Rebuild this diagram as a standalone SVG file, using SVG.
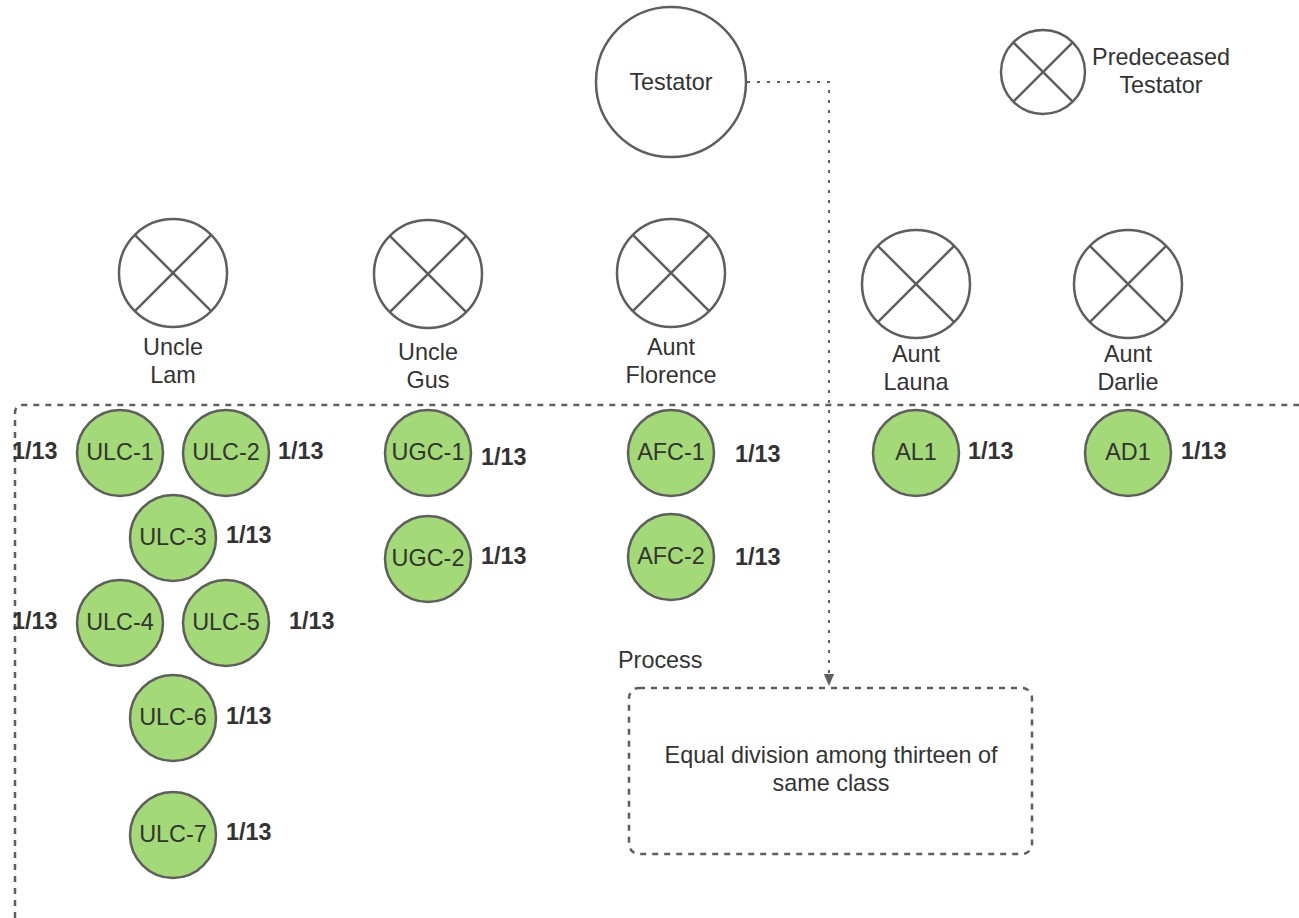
<svg xmlns="http://www.w3.org/2000/svg" width="1299" height="918" viewBox="0 0 1299 918">
<style>
  .t{font-family:"Liberation Sans",Arial,sans-serif;font-size:23.4px;fill:#333;text-anchor:middle;dominant-baseline:central}
  .f{font-family:"Liberation Sans",Arial,sans-serif;font-size:23.4px;font-weight:bold;fill:#333;dominant-baseline:central}
  .dead{fill:#fff;stroke:#5e5e5e;stroke-width:2.5}
  .x{stroke:#5e5e5e;stroke-width:2.5}
  .g{fill:#a3d977;stroke:#5e5e5e;stroke-width:2.5}
  .dash{fill:none;stroke:#5e5e5e;stroke-width:2.5;stroke-dasharray:6 6}
</style>
<defs>
  <marker id="arr" viewBox="0 0 12 14" refX="14" refY="6" markerWidth="14" markerHeight="12" markerUnits="userSpaceOnUse" orient="auto">
    <path d="M0,0 L14,6 L0,12 z" fill="#5e5e5e"/>
  </marker>
</defs>
<rect width="1299" height="918" fill="#fff"/>

<g id="family-region">
  <path class="dash" d="M15,918 L15,413 Q15,405 23,405 L1299,405"/>
</g>

<g id="connectors">
  <path d="M747,82 L829,82 L829,686" fill="none" stroke="#5e5e5e" stroke-width="2" stroke-dasharray="3 7" marker-end="url(#arr)"/>
</g>

<g id="testator">
  <circle cx="671" cy="82" r="75" class="dead"/>
  <text class="t" x="671" y="82">Testator</text>
</g>

<g id="legend">
  <circle cx="1043" cy="72" r="42" class="dead"/>
  <line class="x" x1="1013.3" y1="42.3" x2="1072.7" y2="101.7"/>
  <line class="x" x1="1072.7" y1="42.3" x2="1013.3" y2="101.7"/>
  <text class="t" x="1161" y="57">Predeceased</text>
  <text class="t" x="1161" y="85">Testator</text>
</g>

<g id="uncle-lam">
  <circle cx="173" cy="273" r="54" class="dead"/>
  <line class="x" x1="134.8" y1="234.8" x2="211.2" y2="311.2"/>
  <line class="x" x1="211.2" y1="234.8" x2="134.8" y2="311.2"/>
  <text class="t" x="173" y="347">Uncle</text>
  <text class="t" x="173" y="375">Lam</text>
</g>

<g id="uncle-gus">
  <circle cx="428" cy="274" r="54" class="dead"/>
  <line class="x" x1="389.8" y1="235.8" x2="466.2" y2="312.2"/>
  <line class="x" x1="466.2" y1="235.8" x2="389.8" y2="312.2"/>
  <text class="t" x="428" y="352">Uncle</text>
  <text class="t" x="428" y="380">Gus</text>
</g>

<g id="aunt-florence">
  <circle cx="671" cy="273" r="54" class="dead"/>
  <line class="x" x1="632.8" y1="234.8" x2="709.2" y2="311.2"/>
  <line class="x" x1="709.2" y1="234.8" x2="632.8" y2="311.2"/>
  <text class="t" x="671" y="347">Aunt</text>
  <text class="t" x="671" y="375">Florence</text>
</g>

<g id="aunt-launa">
  <circle cx="916" cy="284" r="54" class="dead"/>
  <line class="x" x1="877.8" y1="245.8" x2="954.2" y2="322.2"/>
  <line class="x" x1="954.2" y1="245.8" x2="877.8" y2="322.2"/>
  <text class="t" x="916" y="354">Aunt</text>
  <text class="t" x="916" y="382">Launa</text>
</g>

<g id="aunt-darlie">
  <circle cx="1128" cy="284" r="54" class="dead"/>
  <line class="x" x1="1089.8" y1="245.8" x2="1166.2" y2="322.2"/>
  <line class="x" x1="1166.2" y1="245.8" x2="1089.8" y2="322.2"/>
  <text class="t" x="1128" y="354">Aunt</text>
  <text class="t" x="1128" y="382">Darlie</text>
</g>

<g id="ulc-1"><circle cx="120" cy="453" r="43" class="g"/><text class="t" x="120" y="452">ULC-1</text><text class="f" x="12" y="451">1/13</text></g>
<g id="ulc-2"><circle cx="226" cy="453" r="43" class="g"/><text class="t" x="226" y="452">ULC-2</text><text class="f" x="278" y="451">1/13</text></g>
<g id="ulc-3"><circle cx="173" cy="538" r="43" class="g"/><text class="t" x="173" y="537">ULC-3</text><text class="f" x="226" y="535">1/13</text></g>
<g id="ulc-4"><circle cx="120" cy="623" r="43" class="g"/><text class="t" x="120" y="622">ULC-4</text><text class="f" x="12" y="621">1/13</text></g>
<g id="ulc-5"><circle cx="226" cy="623" r="43" class="g"/><text class="t" x="226" y="622">ULC-5</text><text class="f" x="289" y="621">1/13</text></g>
<g id="ulc-6"><circle cx="173" cy="718" r="43" class="g"/><text class="t" x="173" y="717">ULC-6</text><text class="f" x="226" y="716">1/13</text></g>
<g id="ulc-7"><circle cx="173" cy="835" r="43" class="g"/><text class="t" x="173" y="834">ULC-7</text><text class="f" x="226" y="832">1/13</text></g>
<g id="ugc-1"><circle cx="428" cy="453" r="43" class="g"/><text class="t" x="428" y="452">UGC-1</text><text class="f" x="481" y="457">1/13</text></g>
<g id="ugc-2"><circle cx="428" cy="559" r="43" class="g"/><text class="t" x="428" y="558">UGC-2</text><text class="f" x="481" y="556">1/13</text></g>
<g id="afc-1"><circle cx="671" cy="453" r="43" class="g"/><text class="t" x="671" y="452">AFC-1</text><text class="f" x="735" y="454">1/13</text></g>
<g id="afc-2"><circle cx="671" cy="557" r="43" class="g"/><text class="t" x="671" y="556">AFC-2</text><text class="f" x="735" y="557">1/13</text></g>
<g id="al1"><circle cx="916" cy="453" r="43" class="g"/><text class="t" x="916" y="452">AL1</text><text class="f" x="968" y="451">1/13</text></g>
<g id="ad1"><circle cx="1128" cy="453" r="43" class="g"/><text class="t" x="1128" y="452">AD1</text><text class="f" x="1181" y="451">1/13</text></g>

<g id="process">
  <text class="t" x="618" y="660" style="text-anchor:start">Process</text>
  <rect class="dash" x="629" y="688" width="403" height="166" rx="10"/>
  <text class="t" x="831" y="755">Equal division among thirteen of</text>
  <text class="t" x="831" y="783">same class</text>
</g>
</svg>
